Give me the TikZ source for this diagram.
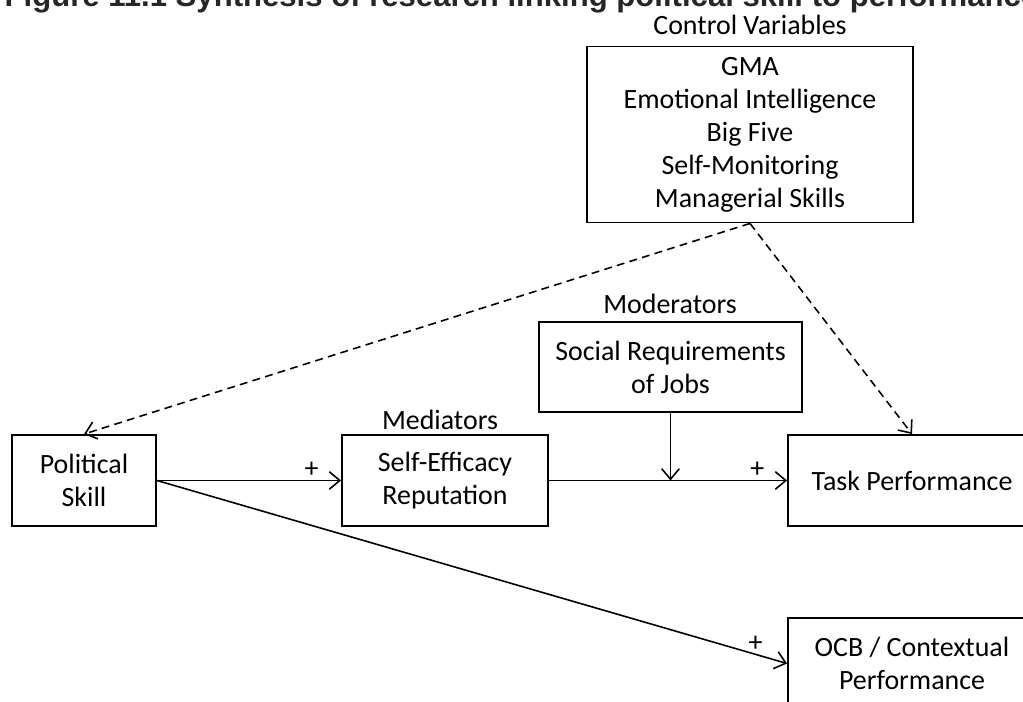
\documentclass[tikz,border=0pt]{standalone}
\usepackage{fontspec}
\setmainfont{Carlito}
\newfontfamily\titlefont{Liberation Sans}
\usetikzlibrary{arrows.meta}

\begin{document}
\begin{tikzpicture}[x=0.02cm,y=-0.02cm,line width=0.9pt,
    >={Straight Barb[length=6pt,width=10pt]},
    font=\fontsize{15.9}{18.8}\selectfont]

        \useasboundingbox (0,0) rectangle (1023,702);

        \node[anchor=base west,text=black!85,
          font=\titlefont\bfseries\fontsize{17.7}{20}\selectfont] (title) at (-2,7)
          {Figure 11.1 Synthesis of research linking political skill to performance};

        \begin{scope}[every node/.style={draw,align=center,inner sep=2pt,line width=1.1pt}]
          \node[minimum width=6.52cm,minimum height=3.52cm] (ctrl) at (750,134.5)
            {GMA\\Emotional Intelligence\\Big Five\\Self-Monitoring\\Managerial Skills};
          \node[minimum width=2.88cm,minimum height=1.82cm] (pol)  at (84,480.5)  {Political\\Skill};
          \node[minimum width=4.12cm,minimum height=1.82cm] (med)  at (445,480.5) {Self-Efficacy\\Reputation};
          \node[minimum width=5.26cm,minimum height=1.80cm] (mod)  at (670.5,367) {Social Requirements\\of Jobs};
          \node[minimum width=4.96cm,minimum height=1.82cm] (task) at (912,480.5) {Task Performance};
          \node[minimum width=4.96cm,minimum height=1.82cm] (ocb)  at (912,663.5) {OCB / Contextual\\Performance};
        \end{scope}

        \begin{scope}[every node/.style={inner sep=0pt}]
          \node (ctrllabel) at (750,25)  {Control Variables};
          \node (modlabel)  at (670,304) {Moderators};
          \node (medlabel)  at (440,420) {Mediators};
        \end{scope}

        \begin{scope}[every node/.style={above,inner sep=1pt}]
          \draw[->] (pol.east) -- node[pos=0.84]  {+} (med.west);
          \draw[->] (med.east) -- node[pos=0.875] {+} (task.west);
          \draw[->] (pol.east) -- node[pos=0.95]  {+} (ocb.west);
          \draw[->] (mod.south) -- (mod.south |- med.east);
          \draw[->,dash pattern=on 4.5pt off 3pt] (ctrl.south) -- (pol.north);
          \draw[->,dash pattern=on 4.5pt off 3pt] (ctrl.south) -- (task.north);
        \end{scope}

      \end{tikzpicture}
\end{document}
